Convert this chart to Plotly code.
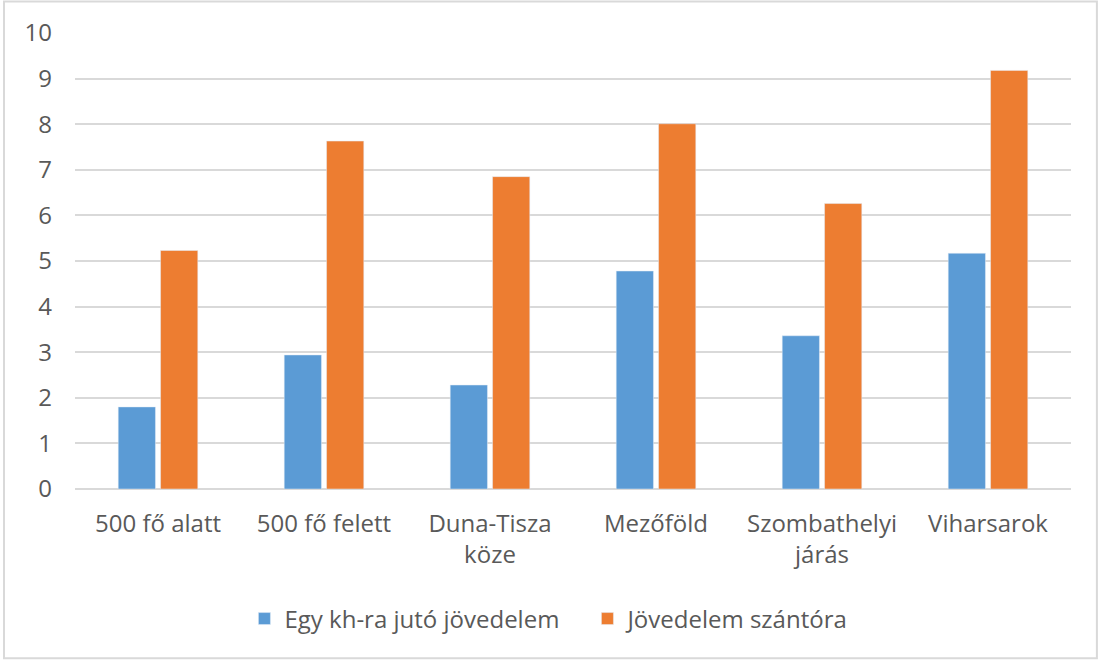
import plotly.graph_objects as go

categories = ["500 fő alatt", "500 fő felett", "Duna-Tisza<br>köze", "Mezőföld",
              "Szombathelyi<br>járás", "Viharsarok"]
per_kh = [1.80, 2.94, 2.28, 4.78, 3.36, 5.17]
per_plough = [5.23, 7.63, 6.85, 8.01, 6.26, 9.18]
y_ticks = list(range(0, 11))

text_col = "#595959"
grid_col = "#D9D9D9"
font_fam = "Open Sans, Noto Sans, sans-serif"

fig = go.Figure()
fig.add_trace(go.Bar(x=categories, y=per_kh, name="Egy kh-ra jutó jövedelem",
                     marker=dict(color="#5B9BD5")))
fig.add_trace(go.Bar(x=categories, y=per_plough, name="Jövedelem szántóra",
                     marker=dict(color="#ED7D31")))

fig.update_layout(
    width=1101, height=662,
    margin=dict(l=75, r=30, t=33, b=173),
    paper_bgcolor="white", plot_bgcolor="white",
    font=dict(family=font_fam, size=24, color=text_col),
    barmode="group", bargap=0.49, bargroupgap=0.12,
    showlegend=True,
    legend=dict(orientation="h", xref="container", yref="container",
                x=0.222, xanchor="left", y=0.065, yanchor="middle",
                entrywidth=298, itemwidth=30,
                font=dict(family=font_fam, size=24, color=text_col)),
)
fig.update_xaxes(showline=False, ticks="", showgrid=False, automargin=False,
                 ticklabelstandoff=18)
fig.update_yaxes(range=[0, 10], tickvals=y_ticks, showgrid=True, gridcolor=grid_col,
                 gridwidth=1.5, zeroline=True, zerolinecolor=grid_col, zerolinewidth=1.5,
                 showline=False, ticks="", ticklabelstandoff=22, automargin=False)

# light chart border around the whole figure
fig.add_shape(type="rect", xref="paper", yref="paper",
              x0=-0.0713, x1=1.026, y0=-0.371, y1=1.069,
              line=dict(color=grid_col, width=2), layer="below")

# drop the default page margin so the figure sits at the window's corner
fig.write_html("out.html", config={"displayModeBar": False},
               post_script="document.body.style.margin='0';")
